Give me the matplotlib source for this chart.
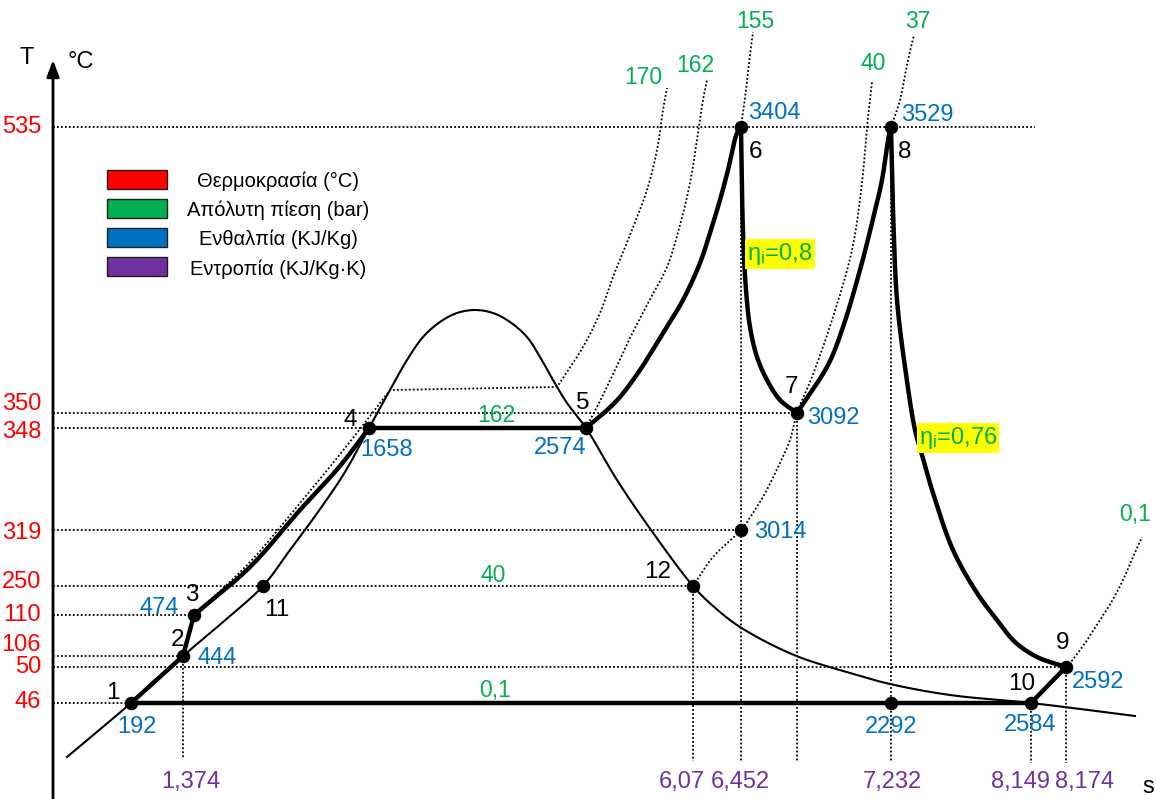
import matplotlib
matplotlib.use("Agg")
import matplotlib.pyplot as plt
import numpy as np
from matplotlib.patches import Rectangle

plt.rcParams['mathtext.fontset'] = 'custom'
plt.rcParams['mathtext.rm'] = 'Liberation Sans'
plt.rcParams['mathtext.it'] = 'Liberation Sans'

# ======================= DATA =======================
# temperature levels marked on the T axis (°C)
T_levels = [46, 50, 106, 110, 250, 319, 348, 350, 535]
# entropy values marked on the s axis (kJ/kg·K)
s_ticks = [1.374, 6.07, 6.452, 7.232, 8.149, 8.174]
s_tick_text = ["1,374", "6,07", "6,452", "7,232", "8,149", "8,174"]

# cycle state points
pt_names = ["1", "2", "3", "4", "5", "6", "7", "8", "9", "10", "11", "12", "6s", "8s"]
pt_T = [46, 106, 110, 348, 348, 535, 350, 535, 50, 46, 250, 250, 319, 46]
pt_s = [None, 1.374, None, None, None, 6.452, None, 7.232, 8.174, 8.149, None, 6.07, 6.452, 7.232]
pt_h = [192, 444, 474, 1658, 2574, 3404, 3092, 3529, 2592, 2584, None, None, 3014, 2292]

# pressures (bar) of the isobars
p_top = ["170", "162", "155", "40", "37"]
p_mid = ["162", "40", "0,1"]
p_right = "0,1"
eff_hp, eff_lp = "0,8", "0,76"

legend_items = ["Θερμοκρασία (°C)", "Απόλυτη πίεση (bar)", "Ενθαλπία (KJ/Kg)", "Εντροπία (KJ/Kg·K)"]

# ======================= LAYOUT (schematic, not to scale) =======================
C_RED, C_GREEN, C_BLUE, C_PURPLE = "#FF0000", "#00B050", "#0070C0", "#7030A0"
legend_colors = [C_RED, C_GREEN, C_BLUE, C_PURPLE]

T_row = dict(zip(T_levels, [703, 667, 656, 615, 586, 530, 428, 413, 127]))
T_lab_y = dict(zip(T_levels, [702, 667, 645, 615, 582, 533, 432, 404, 127]))
s_col = dict(zip(s_ticks, [183, 693, 741, 891, 1031, 1066]))
s_lab_x = [191, 682, 740, 892, 1020, 1085]
x_free = {"1": 131, "3": 194, "4": 369, "5": 586, "7": 797, "11": 263}

P = {}
for n, T, s in zip(pt_names, pt_T, pt_s):
    P[n] = (s_col[s] if s is not None else x_free[n], T_row[T])


def y_axis(x):
    return 757.5 + (x - 13) * 6.0 / 1143.0


def smooth(pts, n=14):
    """Centripetal Catmull-Rom curve through the given shape control points."""
    pts = np.asarray(pts, float)
    if len(pts) < 3:
        return pts
    Q = np.vstack([2 * pts[0] - pts[1], pts, 2 * pts[-1] - pts[-2]])
    out = []
    for i in range(len(Q) - 3):
        p0, p1, p2, p3 = Q[i:i + 4]
        t0 = 0.0
        t1 = t0 + np.linalg.norm(p1 - p0) ** 0.5
        t2 = t1 + np.linalg.norm(p2 - p1) ** 0.5
        t3 = t2 + np.linalg.norm(p3 - p2) ** 0.5
        t = np.linspace(t1, t2, n, endpoint=False)[:, None]
        A1 = (t1 - t) / (t1 - t0) * p0 + (t - t0) / (t1 - t0) * p1
        A2 = (t2 - t) / (t2 - t1) * p1 + (t - t1) / (t2 - t1) * p2
        A3 = (t3 - t) / (t3 - t2) * p2 + (t - t2) / (t3 - t2) * p3
        B1 = (t2 - t) / (t2 - t0) * A1 + (t - t0) / (t2 - t0) * A2
        B2 = (t3 - t) / (t3 - t1) * A2 + (t - t1) / (t3 - t1) * A3
        out.append((t2 - t) / (t2 - t1) * B1 + (t - t1) / (t2 - t1) * B2)
    out.append(pts[-1:])
    return np.vstack(out)


def chain(*parts):
    return np.vstack([np.asarray(p, float) for p in parts])


NARROW = ['Liberation Sans Narrow', 'Liberation Sans', 'DejaVu Sans']
REG = ['Liberation Sans', 'DejaVu Sans']

fig = plt.figure(figsize=(11.56, 7.99), dpi=100)
ax = fig.add_axes([0, 0, 1, 1])
ax.set_xlim(0, 1156)
ax.set_ylim(799, 0)
ax.axis('off')

DOT = dict(color='black', lw=1.3, ls=(0, (1, 1.2)), zorder=1)

# ---- axes arrows ----
ax.annotate("", xy=(53, 60), xytext=(53, 799),
            arrowprops=dict(arrowstyle="-|>,head_length=1.0,head_width=0.38", lw=2.0,
                            color='black', shrinkA=0, shrinkB=0))
ax.annotate("", xy=(1157, y_axis(1157)), xytext=(13, y_axis(13)),
            arrowprops=dict(arrowstyle="-|>,head_length=1.1,head_width=0.38", lw=2.0,
                            color='black', shrinkA=0, shrinkB=0))

# ---- horizontal dotted guides from T axis ----
for T in T_levels:
    xs = [P[n][0] for n, t in zip(pt_names, pt_T) if t == T]
    xe = 1035 if T == 535 else max(xs)
    ax.plot([53, xe], [T_row[T], T_row[T]], **DOT)

# ---- vertical dotted drops to s axis ----
for n in ["2", "12", "6", "7", "8", "10", "9"]:
    x, y = P[n]
    ax.plot([x, x], [y, y_axis(x)], **DOT)

# ---- isobars (dotted) ----
iso170 = chain(smooth([P["3"], (250, 562), (300, 503), (333, 463), (367, 420), (390, 390)]),
               [(557, 387)],
               smooth([(557, 387), (565, 375), (583, 347), (600, 313), (613, 277), (630, 235),
                       (647, 190), (657, 150), (663, 110), (667, 88)]))
iso162 = smooth([P["5"], (598, 405), (615, 370), (630, 338), (648, 303), (667, 267), (680, 225),
                 (690, 183), (697, 140), (703, 100), (707, 80)])
iso155 = smooth([P["6"], (746, 90), (750, 55), (753, 32)])
iso40 = smooth([P["12"], (713, 557), P["6s"], (753, 513), (763, 497), (780, 463), (790, 440), P["7"],
                (812, 377), (833, 317), (852, 250), (862, 183), (867, 127), (870, 100), (872, 82)])
iso37 = smooth([P["8"], (900, 100), (906, 70), (911, 47), (914, 35)])
iso01 = smooth([P["9"], (1070, 663), (1085, 643), (1100, 620), (1112, 601), (1123, 580),
                (1133, 557), (1142, 537)])
for c in [iso170, iso162, iso155, iso40, iso37, iso01]:
    ax.plot(c[:, 0], c[:, 1], **DOT)

# ---- saturation dome (thin) ----
dome = smooth([(67, 757), P["1"], P["2"], (223, 622), P["11"], (290, 550), (318, 512), (345, 472),
               P["4"], (390, 390), (407, 360), (423, 337), (440, 322), (457, 313), (475, 310),
               (493, 313), (510, 322), (527, 337), (540, 357), (553, 380), (567, 403), P["5"],
               (617, 480), (651, 530), P["12"], (713, 606), (740, 627), (794, 655), (850, 673),
               (890, 684), (950, 695), P["10"], (1135, 716)])
ax.plot(dome[:, 0], dome[:, 1], color='black', lw=1.5, zorder=2)

# ---- cycle (thick) ----
cycle = chain([P["1"], P["2"]],
              smooth([P["3"], (250, 567), (300, 510), (340, 466), P["4"]]),
              smooth([P["5"], (605, 412), (620, 397), (640, 370), (663, 333), (683, 300), (700, 263),
                      (710, 233), (720, 200), (728, 170), (737, 133), P["6"]]),
              smooth([P["6"], (743, 233), (746, 290), (750, 327), (757, 357), (767, 380),
                      (780, 400), P["7"]]),
              smooth([P["7"], (828, 365), (843, 327), (860, 270), (872, 223), (882, 180),
                      (888, 140), P["8"]]),
              smooth([P["8"], (893, 210), (897, 300), (905, 367), (915, 430),
                      (922, 455), (933, 493), (953, 550), (977, 593), (997, 620), (1015, 642),
                      (1037, 657), P["9"]]),
              [P["10"], P["1"]])
ax.plot(cycle[:, 0], cycle[:, 1], color='black', lw=3.2, zorder=3,
        solid_joinstyle='round', solid_capstyle='round')

# ---- state point markers ----
ax.scatter([P[n][0] for n in pt_names], [P[n][1] for n in pt_names], s=95, color='black', zorder=4,
           linewidths=0)

# ---- T axis labels ----
for T in T_levels:
    ax.text(41, T_lab_y[T], str(T), color=C_RED, fontsize=17, family=NARROW, ha='right', va='center')
ax.text(27, 58, "T", fontsize=17, family=REG, ha='center', va='center')
ax.text(81, 62, "°C", fontsize=17, family=REG, ha='center', va='center')

# ---- s axis labels ----
for t, x in zip(s_tick_text, s_lab_x):
    ax.text(x, 782, t, color=C_PURPLE, fontsize=17, family=NARROW, ha='center', va='center')
ax.text(1148, 787, "s", fontsize=17, family=REG, ha='center', va='center')

# ---- enthalpy labels ----
h_pos = {"1": (137, 727), "2": (217, 658), "3": (159, 608), "4": (387, 450), "5": (560, 448),
         "6": (774, 113), "7": (833, 418), "8": (927, 115), "9": (1098, 682), "10": (1030, 725),
         "6s": (780, 532), "8s": (891, 727)}
for n, h in zip(pt_names, pt_h):
    if h is not None:
        ax.text(*h_pos[n], str(h), color=C_BLUE, fontsize=17, family=NARROW, ha='center', va='center')

# ---- state point names ----
name_pos = {"1": (113, 693), "2": (178, 640), "3": (192, 595), "4": (350, 420), "5": (583, 403),
            "6": (755, 152), "7": (792, 387), "8": (905, 152), "9": (1063, 643), "10": (1022, 684),
            "11": (277, 610), "12": (658, 572)}
for n in pt_names:
    if n in name_pos:
        ax.text(*name_pos[n], n, fontsize=17.5, family=REG, ha='center', va='center')

# ---- pressure labels ----
for t, xy in zip(p_top, [(643, 77), (695, 65), (755, 22), (873, 63), (918, 21)]):
    ax.text(*xy, t, color=C_GREEN, fontsize=16.5, family=REG, ha='center', va='center')
for t, xy in zip(p_mid, [(496, 416), (493, 575), (495, 690)]):
    ax.text(*xy, t, color=C_GREEN, fontsize=16.5, family=REG, ha='center', va='center')
ax.text(1135, 515, p_right, color=C_GREEN, fontsize=16.5, family=REG, ha='center', va='center')

# ---- isentropic efficiencies ----
for eff, xy in [(eff_hp, (780, 254)), (eff_lp, (958, 438))]:
    ax.text(*xy, "η$_\\mathrm{i}$=" + eff, color=C_GREEN, fontsize=17, family=NARROW,
            ha='center', va='center',
            bbox=dict(facecolor='#FFFF00', edgecolor='none', pad=1.5), zorder=5)

# ---- legend ----
for i, (lab, col) in enumerate(zip(legend_items, legend_colors)):
    ax.add_patch(Rectangle((107, 170 + 29.1 * i), 60, 19, facecolor=col, edgecolor='#202020', lw=1.0))
    ax.text(278, 181.5 + 29.1 * i, lab, fontsize=14.5, family=REG, ha='center', va='center')

fig.savefig("out.png", dpi=100)
